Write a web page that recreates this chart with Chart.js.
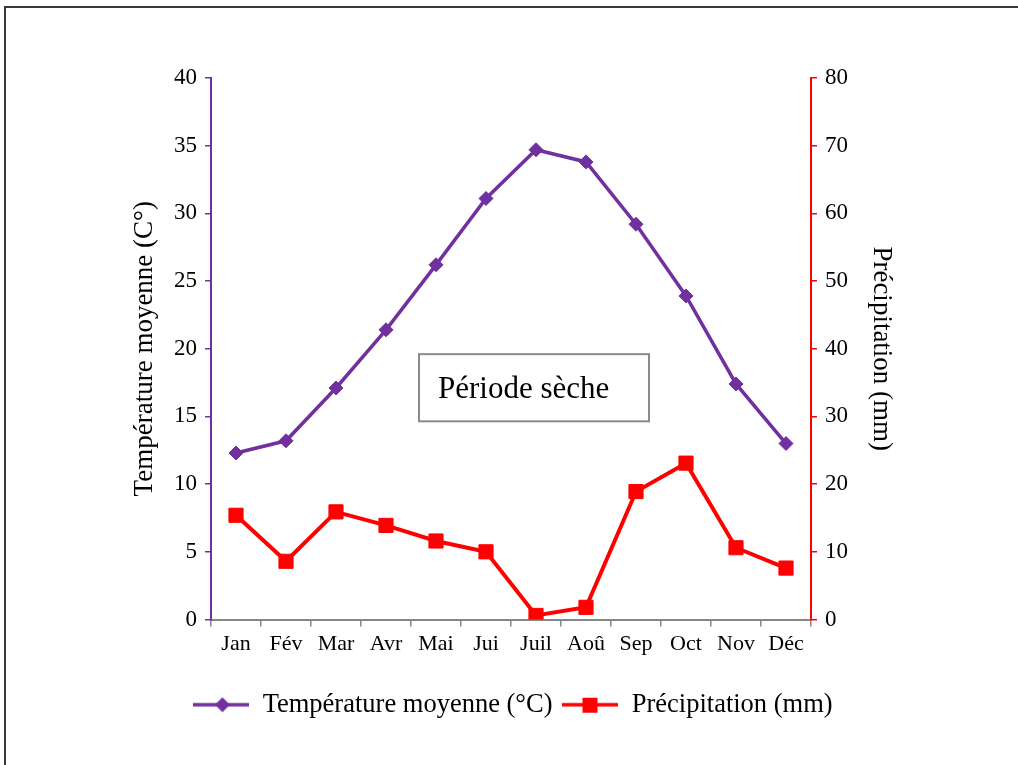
<!DOCTYPE html>
<html>
<head>
<meta charset="utf-8">
<script src="https://cdn.jsdelivr.net/npm/chart.js@4"></script>
<style>
  html, body { margin: 0; padding: 0; background: #fff; overflow: hidden; }
  #frame { position: absolute; left: 4px; top: 6px; width: 1200px; height: 1000px; border: 2px solid #3a3a3a; box-sizing: border-box; }
  #c { position: absolute; left: 0; top: 0; }
</style>
</head>
<body>
<div id="frame"></div>
<canvas id="c" width="1018" height="765"></canvas>
<script>
const months = ['Jan','Fév','Mar','Avr','Mai','Jui','Juil','Aoû','Sep','Oct','Nov','Déc'];
const temperature = [12.3, 13.2, 17.1, 21.4, 26.2, 31.1, 34.7, 33.8, 29.2, 23.9, 17.4, 13.0];
const precipitation = [15.4, 8.6, 15.9, 13.9, 11.6, 10.0, 0.6, 1.8, 18.9, 23.1, 10.6, 7.6];
const tempLabel = 'Température moyenne (°C)';
const precLabel = 'Précipitation (mm)';
const leftTitle = 'Température moyenne (C°)';
const rightTitle = 'Précipitation (mm)';
const boxText = 'Période sèche';

const PURPLE = '#7030A0';
const RED = '#FF0000';
const SERIF = '"Liberation Serif", "Times New Roman", serif';

function legendIcon(color, type) {
  const cv = document.createElement('canvas');
  cv.width = 56; cv.height = 20;
  const g = cv.getContext('2d');
  g.strokeStyle = color; g.lineWidth = 3.5; g.lineCap = 'butt';
  g.beginPath(); g.moveTo(0, 10); g.lineTo(56, 10); g.stroke();
  g.fillStyle = color;
  if (type === 'diamond') {
    g.beginPath(); g.moveTo(29, 2.5); g.lineTo(36.5, 10); g.lineTo(29, 17.5); g.lineTo(21.5, 10); g.closePath(); g.fill();
  } else {
    g.fillRect(20, 3, 15, 15);
  }
  return cv;
}

const boxPlugin = {
  id: 'boxNote',
  afterDatasetsDraw(chart) {
    const x = chart.scales.x, y = chart.scales.y;
    const ctx = chart.ctx;
    const x0 = x.getPixelForValue(3.66), x1 = x.getPixelForValue(8.26);
    const y0 = y.getPixelForValue(19.6), y1 = y.getPixelForValue(14.64);
    ctx.save();
    ctx.fillStyle = '#fff';
    ctx.fillRect(x0, y0, x1 - x0, y1 - y0);
    ctx.strokeStyle = '#8a8a8a'; ctx.lineWidth = 2;
    ctx.strokeRect(x0, y0, x1 - x0, y1 - y0);
    ctx.fillStyle = '#000';
    ctx.font = '31px ' + SERIF;
    ctx.textBaseline = 'alphabetic';
    ctx.fillText(boxText, x0 + 19, y0 + 44);
    ctx.restore();
  }
};

new Chart(document.getElementById('c'), {
  type: 'line',
  data: {
    labels: months,
    datasets: [
      { label: tempLabel, data: temperature, yAxisID: 'y', borderColor: PURPLE, backgroundColor: PURPLE,
        borderWidth: 3.5, pointStyle: 'rectRot', pointRadius: 7, pointBorderWidth: 1, pointHoverRadius: 7, tension: 0 },
      { label: precLabel, data: precipitation, yAxisID: 'y1', borderColor: RED, backgroundColor: RED,
        borderWidth: 4, pointStyle: 'rect', pointRadius: 10, pointBorderWidth: 1, pointHoverRadius: 10, tension: 0 }
    ]
  },
  options: {
    responsive: false,
    animation: false,
    events: [],
    layout: { padding: { left: 125, right: 117, top: 78, bottom: 37 } },
    plugins: {
      tooltip: { enabled: false },
      legend: {
        position: 'bottom',
        labels: {
          usePointStyle: true,
          pointStyleWidth: 56,
          padding: 10,
          color: '#000',
          font: { family: SERIF, size: 26.5 },
          generateLabels(chart) {
            return [
              { text: tempLabel, pointStyle: legendIcon(PURPLE, 'diamond'), fillStyle: PURPLE, strokeStyle: PURPLE, lineWidth: 0, datasetIndex: 0, fontColor: '#000' },
              { text: precLabel, pointStyle: legendIcon(RED, 'square'), fillStyle: RED, strokeStyle: RED, lineWidth: 0, datasetIndex: 1, fontColor: '#000' }
            ];
          }
        }
      }
    },
    scales: {
      x: {
        offset: true,
        afterFit(s) { s.height = 62; },
        grid: { display: true, drawOnChartArea: false, offset: true, color: '#868686', tickLength: 7, lineWidth: 1.5 },
        border: { display: true, color: '#868686', width: 2 },
        ticks: { color: '#000', font: { family: SERIF, size: 22 }, padding: 5, maxRotation: 0 }
      },
      y: {
        position: 'left',
        min: 0, max: 40,
        afterFit(s) { s.width = 86; },
        ticks: { stepSize: 5, color: '#000', font: { family: SERIF, size: 23 }, padding: 8 },
        grid: { display: true, drawOnChartArea: false, color: PURPLE, tickLength: 6, lineWidth: 1.5 },
        border: { display: true, color: PURPLE, width: 2 },
        title: { display: true, text: leftTitle, color: '#000', font: { family: SERIF, size: 27 }, padding: { top: 4, bottom: 4 } }
      },
      y1: {
        position: 'right',
        min: 0, max: 80,
        afterFit(s) { s.width = 90; },
        ticks: { stepSize: 10, color: '#000', font: { family: SERIF, size: 23 }, padding: 8 },
        grid: { display: true, drawOnChartArea: false, color: RED, tickLength: 6, lineWidth: 1.5 },
        border: { display: true, color: RED, width: 2 },
        title: { display: true, text: rightTitle, color: '#000', font: { family: SERIF, size: 27 }, padding: { top: 4, bottom: 4 } }
      }
    }
  },
  plugins: [boxPlugin]
});
</script>
</body>
</html>
